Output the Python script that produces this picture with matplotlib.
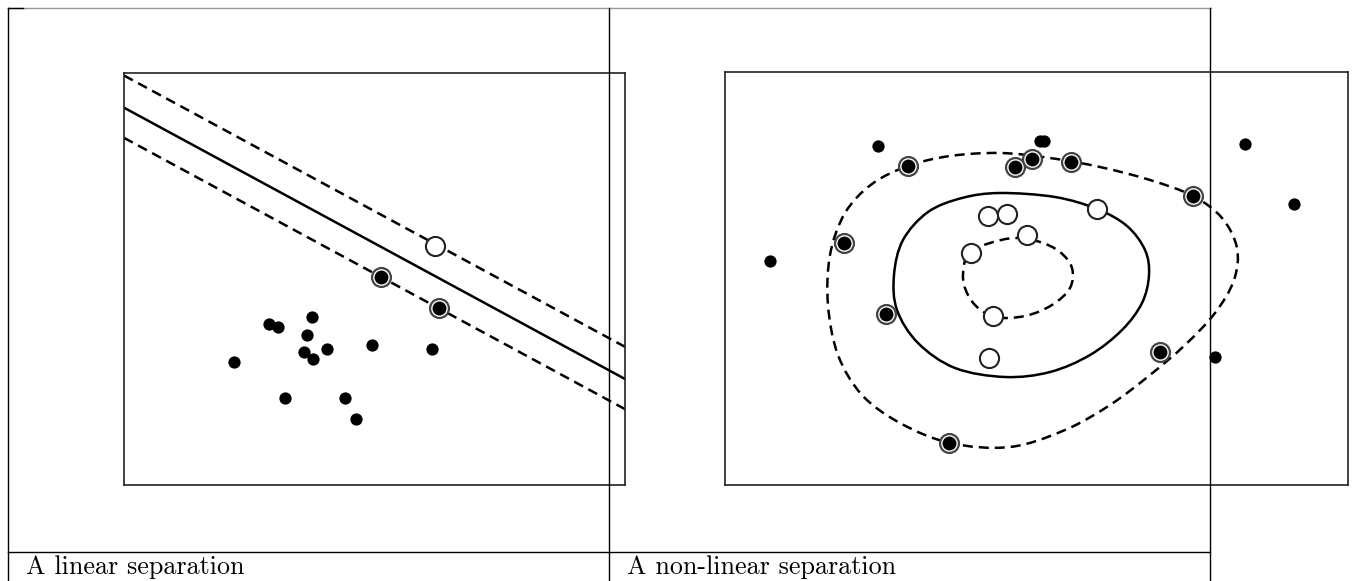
import numpy as np
import matplotlib
matplotlib.use("Agg")
import matplotlib.pyplot as plt
from matplotlib.path import Path
from matplotlib.patches import PathPatch
from matplotlib.lines import Line2D

# ---- left panel: linear separation ----
lin_x = [2.20, 2.89, 3.07, 3.75, 3.65, 3.59, 3.77, 4.05, 4.95, 6.15, 3.21, 4.41, 4.63]
lin_y = [2.45, 3.21, 3.15, 3.35, 2.99, 2.65, 2.51, 2.71, 2.79, 2.71, 1.73, 1.73, 1.31]
lin_sv_x = [5.13, 6.29]
lin_sv_y = [4.14, 3.53]
lin_open_x = [6.21]
lin_open_y = [4.76]
line_slope = -0.54
line_icpt = {"upper": 8.15, "mid": 7.51, "lower": 6.91}

# ---- right panel: non-linear separation ----
nl_x = [3.06, 0.90, 6.30, 6.38, 10.40, 11.38, 9.80]
nl_y = [6.78, 4.48, 6.88, 6.88, 6.82, 5.62, 2.56]
nl_sv_x = [3.66, 5.80, 6.14, 6.92, 9.36, 2.38, 3.22, 8.70, 4.48]
nl_sv_y = [6.38, 6.36, 6.52, 6.46, 5.78, 4.84, 3.42, 2.66, 0.84]
nl_open_x = [5.26, 5.64, 6.04, 4.92, 7.44, 5.36, 5.28]
nl_open_y = [5.38, 5.42, 5.00, 4.64, 5.52, 3.38, 2.54]

# margin curves
outer_x = [3.66, 4.50, 5.50, 6.50, 7.50, 8.50, 9.36, 9.94, 10.24, 10.18, 9.80, 9.20,
           8.50, 7.70, 6.80, 5.70, 4.50, 3.50, 2.74, 2.26, 2.06, 2.10, 2.40, 2.94]
outer_y = [6.38, 6.58, 6.64, 6.54, 6.36, 6.10, 5.78, 5.34, 4.74, 4.10, 3.44, 2.80,
           2.20, 1.60, 1.10, 0.76, 0.84, 1.24, 1.80, 2.60, 3.60, 4.60, 5.44, 6.02]
mid_x = [5.50, 6.60, 7.44, 8.04, 8.40, 8.48, 8.34, 7.94, 7.30, 6.50, 5.60, 4.60,
         3.86, 3.44, 3.38, 3.56, 4.06, 4.74]
mid_y = [5.84, 5.76, 5.52, 5.18, 4.70, 4.20, 3.64, 3.10, 2.60, 2.26, 2.16, 2.34,
         2.84, 3.50, 4.20, 4.90, 5.46, 5.74]
inner_x = [4.90, 5.30, 5.80, 6.30, 6.70, 6.94, 6.90, 6.54, 6.00, 5.40, 5.00, 4.78, 4.78]
inner_y = [4.66, 4.84, 4.94, 4.86, 4.66, 4.34, 3.94, 3.60, 3.38, 3.36, 3.60, 4.00, 4.40]

captions = ["A linear separation", "A non-linear separation"]

DASH = (0, (4, 2.4))
LW = 1.8
W, H = 1354, 581


def closed_curve(xs, ys):
    # smooth closed curve through the points (Catmull-Rom as cubic Bezier)
    p = np.column_stack([xs, ys])
    n = len(p)
    verts = [p[0]]
    codes = [Path.MOVETO]
    for i in range(n):
        p0, p1, p2, p3 = p[i - 1], p[i], p[(i + 1) % n], p[(i + 2) % n]
        verts += [p1 + (p2 - p0) / 6, p2 - (p3 - p1) / 6, p2]
        codes += [Path.CURVE4] * 3
    return Path(verts, codes)


def draw_points(ax, px, py, sx, sy, ox, oy):
    ax.scatter(px, py, s=78, color="black", zorder=3, linewidths=0)
    ax.scatter(sx, sy, s=185, facecolor="white", edgecolor="#444444", linewidths=1.6, zorder=3)
    ax.scatter(sx, sy, s=100, color="black", zorder=4, linewidths=0)
    ax.scatter(ox, oy, s=190, facecolor="white", edgecolor="#222222", linewidths=1.5, zorder=4)


def setup(ax, xmax, ymax):
    ax.set_xlim(0, xmax)
    ax.set_ylim(0, ymax)
    ax.set_xticks([])
    ax.set_yticks([])
    for sp in ax.spines.values():
        sp.set_linewidth(1.2)
        sp.set_color("#222222")


fig = plt.figure(figsize=(W / 100, H / 100), dpi=100)

# left axes
ax1 = fig.add_axes([124 / W, (H - 485) / H, 501 / W, 412 / H])
setup(ax1, 10.0, 8.2)
xs = np.array([0.0, 10.0])
for key, ls in [("upper", DASH), ("mid", "-"), ("lower", DASH)]:
    ax1.plot(xs, line_icpt[key] + line_slope * xs, color="black", lw=LW, ls=ls, zorder=2)
draw_points(ax1, lin_x, lin_y, lin_sv_x, lin_sv_y, lin_open_x, lin_open_y)

# right axes
ax2 = fig.add_axes([725 / W, (H - 485) / H, 623 / W, 413 / H])
setup(ax2, 12.46, 8.26)
for cx, cy, ls in [(outer_x, outer_y, DASH), (mid_x, mid_y, "-"), (inner_x, inner_y, DASH)]:
    ax2.add_patch(PathPatch(closed_curve(cx, cy), facecolor="none", edgecolor="black",
                            lw=LW, linestyle=ls, zorder=2))
draw_points(ax2, nl_x, nl_y, nl_sv_x, nl_sv_y, nl_open_x, nl_open_y)


# table rules (figure pixel coordinates)
def rule(x0, y0, x1, y1, color="black", lw=1.0):
    fig.add_artist(Line2D([x0 / W, x1 / W], [1 - y0 / H, 1 - y1 / H],
                          color=color, lw=lw, transform=fig.transFigure, zorder=5))


rule(7.5, 7.5, 1210.5, 7.5, color="#999999", lw=1.0)
rule(7.5, 8, 23, 8, lw=1.0)
rule(7.5, 7.5, 7.5, 581)
rule(609.3, 7.5, 609.3, 581)
rule(1210.3, 7.5, 1210.3, 581)
rule(7.5, 551.5, 1210.3, 551.5)

fig.text(26 / W, 1 - 574 / H, captions[0], fontsize=18.8, family=["cmr10", "DejaVu Serif"],
         ha="left", va="baseline")
fig.text(627 / W, 1 - 574 / H, captions[1], fontsize=18.8, family=["cmr10", "DejaVu Serif"],
         ha="left", va="baseline")

fig.savefig("out.png", dpi=100)
